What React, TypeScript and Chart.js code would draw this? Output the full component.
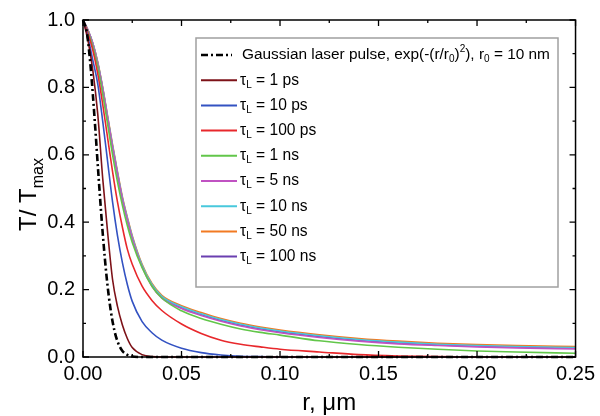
import React, { useEffect, useRef } from "react";
import { Chart, registerables } from "chart.js";

Chart.register(...registerables);

const FONT = "'Liberation Sans', Arial, Helvetica, sans-serif";

// radial coordinate, micrometres
const rGrid = [0, 0.0025, 0.005, 0.0075, 0.01, 0.0125, 0.015, 0.0175, 0.02, 0.0225, 0.025, 0.03, 0.035, 0.04, 0.05, 0.06, 0.07, 0.08, 0.09, 0.1, 0.12, 0.14, 0.16, 0.18, 0.2, 0.22, 0.25];

// Gaussian laser pulse
const gaussR = [0, 0.002, 0.004, 0.006, 0.008, 0.01, 0.012, 0.014, 0.016, 0.018, 0.02, 0.022, 0.024, 0.03, 0.25];
const gaussT = [1, 0.961, 0.852, 0.698, 0.527, 0.368, 0.237, 0.141, 0.077, 0.039, 0.018, 0.008, 0.003, 0, 0];

const tau1ps = [1, 0.94, 0.85, 0.72, 0.53, 0.37, 0.23, 0.15, 0.095, 0.055, 0.028, 0.007, 0.001, 0, 0, 0, 0, 0, 0, 0, 0, 0, 0, 0, 0, 0, 0];
const tau10ps = [1, 0.95, 0.88, 0.81, 0.70, 0.58, 0.46, 0.36, 0.28, 0.215, 0.165, 0.105, 0.072, 0.05, 0.026, 0.013, 0.006, 0.002, 0.001, 0, 0, 0, 0, 0, 0, 0, 0];
const tau100ps = [1, 0.96, 0.91, 0.84, 0.75, 0.65, 0.55, 0.46, 0.385, 0.32, 0.275, 0.21, 0.168, 0.138, 0.098, 0.07, 0.05, 0.038, 0.03, 0.023, 0.015, 0.007, 0.003, 0.001, 0, 0, 0];
const tau1ns = [1, 0.965, 0.92, 0.86, 0.78, 0.69, 0.60, 0.52, 0.45, 0.39, 0.34, 0.265, 0.21, 0.175, 0.137, 0.114, 0.097, 0.083, 0.073, 0.065, 0.048, 0.037, 0.029, 0.023, 0.018, 0.015, 0.011];
const tau5ns = [1, 0.97, 0.928, 0.87, 0.795, 0.708, 0.622, 0.542, 0.467, 0.407, 0.352, 0.267, 0.21, 0.175, 0.144, 0.123, 0.106, 0.092, 0.081, 0.072, 0.058, 0.047, 0.039, 0.034, 0.03, 0.027, 0.024];
const tau10ns = [1, 0.97, 0.93, 0.873, 0.798, 0.712, 0.627, 0.547, 0.472, 0.412, 0.357, 0.272, 0.215, 0.18, 0.149, 0.128, 0.111, 0.097, 0.086, 0.077, 0.063, 0.052, 0.044, 0.038, 0.034, 0.031, 0.028];
const tau50ns = [1, 0.97, 0.93, 0.875, 0.80, 0.715, 0.63, 0.55, 0.475, 0.415, 0.36, 0.275, 0.218, 0.183, 0.152, 0.132, 0.114, 0.1, 0.089, 0.08, 0.066, 0.055, 0.047, 0.041, 0.037, 0.034, 0.031];
const tau100ns = [1, 0.97, 0.93, 0.872, 0.797, 0.71, 0.625, 0.545, 0.47, 0.41, 0.355, 0.27, 0.213, 0.178, 0.147, 0.126, 0.109, 0.095, 0.084, 0.075, 0.061, 0.05, 0.042, 0.036, 0.032, 0.029, 0.026];

const tauLabels = ["1 ps", "10 ps", "100 ps", "1 ns", "5 ns", "10 ns", "50 ns", "100 ns"];
const tauSeries = [tau1ps, tau10ps, tau100ps, tau1ns, tau5ns, tau10ns, tau50ns, tau100ns];
const tauColors = ["#7d1218", "#3352c2", "#e8282c", "#62c64a", "#c052c2", "#48c8dc", "#f27a22", "#6a3fb0"];

const xTickStep = 0.05;
const yTickStep = 0.2;

type Seg = { t: string; k?: "sub" | "sup" };

function drawRich(ctx: CanvasRenderingContext2D, x: number, y: number, segs: Seg[], size: number) {
  let cx = x;
  for (const s of segs) {
    const fs = s.k ? Math.round(size * 0.66) : size;
    const dy = s.k === "sub" ? size * 0.3 : s.k === "sup" ? -size * 0.38 : 0;
    ctx.font = `${fs}px ${FONT}`;
    ctx.fillText(s.t, cx, y + dy);
    cx += ctx.measureText(s.t).width;
  }
  return cx;
}

const decorPlugin = {
  id: "decor",
  afterDatasetsDraw(chart: any) {
    const ctx: CanvasRenderingContext2D = chart.ctx;
    const ca = chart.chartArea;
    const xs = chart.scales.x;
    const ys = chart.scales.y;
    ctx.save();
    // frame
    ctx.strokeStyle = "#000";
    ctx.lineWidth = 1.5;
    ctx.setLineDash([]);
    ctx.strokeRect(ca.left, ca.top, ca.right - ca.left, ca.bottom - ca.top);
    // ticks
    ctx.lineWidth = 1.3;
    ctx.beginPath();
    for (let i = 0; i <= 10; i++) {
      const v = i * xTickStep / 2;
      const px = xs.getPixelForValue(v);
      const len = i % 2 === 0 ? 6 : 3;
      ctx.moveTo(px, ca.bottom); ctx.lineTo(px, ca.bottom - len);
      ctx.moveTo(px, ca.top); ctx.lineTo(px, ca.top + len);
    }
    for (let i = 0; i <= 10; i++) {
      const v = i * yTickStep / 2;
      const py = ys.getPixelForValue(v);
      const len = i % 2 === 0 ? 6 : 3;
      ctx.moveTo(ca.left, py); ctx.lineTo(ca.left + len, py);
      ctx.moveTo(ca.right, py); ctx.lineTo(ca.right - len, py);
    }
    ctx.stroke();

    // legend
    const lx = ca.left + 113;
    const ly = ca.top + 18;
    const lw = 362;
    const lh = 249;
    ctx.fillStyle = "#fff";
    ctx.fillRect(lx, ly, lw, lh);
    ctx.strokeStyle = "#a0a0a0";
    ctx.lineWidth = 1.5;
    ctx.strokeRect(lx, ly, lw, lh);
    ctx.fillStyle = "#000";
    ctx.textBaseline = "middle";
    ctx.textAlign = "left";
    const rowH = 25.2;
    const y0 = ly + 17;
    // gaussian row
    ctx.strokeStyle = "#000";
    ctx.lineWidth = 2.5;
    ctx.setLineDash([7, 3, 2, 3]);
    ctx.beginPath();
    ctx.moveTo(lx + 5, y0); ctx.lineTo(lx + 36, y0);
    ctx.stroke();
    ctx.setLineDash([]);
    drawRich(ctx, lx + 46, y0, [
      { t: "Gaussian laser pulse, exp(-(r/r" }, { t: "0", k: "sub" }, { t: ")" }, { t: "2", k: "sup" },
      { t: "), r" }, { t: "0", k: "sub" }, { t: " = 10 nm" },
    ], 15.4);
    tauLabels.forEach((lab, i) => {
      const y = y0 + (i + 1) * rowH;
      ctx.strokeStyle = tauColors[i];
      ctx.lineWidth = 2;
      ctx.beginPath();
      ctx.moveTo(lx + 5, y); ctx.lineTo(lx + 41, y);
      ctx.stroke();
      drawRich(ctx, lx + 44, y, [{ t: "\u03c4" }, { t: "L", k: "sub" }, { t: " = " + lab }], 15.6);
    });

    // axis titles
    ctx.fillStyle = "#000";
    ctx.textBaseline = "alphabetic";
    ctx.font = `24px ${FONT}`;
    const xt = "r, \u03bcm";
    const xtw = ctx.measureText(xt).width;
    ctx.fillText(xt, (ca.left + ca.right) / 2 - xtw / 2, 410);

    ctx.save();
    ctx.translate(36, (ca.top + ca.bottom) / 2 + 6);
    ctx.rotate(-Math.PI / 2);
    ctx.font = `24px ${FONT}`;
    const w1 = ctx.measureText("T/ T").width;
    ctx.font = `16px ${FONT}`;
    const w2 = ctx.measureText("max").width;
    drawRich(ctx, -(w1 + w2) / 2, 0, [{ t: "T/ T" }, { t: "max", k: "sub" }], 24);
    ctx.restore();
    ctx.restore();
  },
};

export default function App() {
  const ref = useRef<HTMLCanvasElement | null>(null);
  useEffect(() => {
    if (!ref.current) return;
    const lineDs = (vals: number[], color: string) => ({
      data: rGrid.map((r, i) => ({ x: r, y: vals[i] })),
      borderColor: color,
      borderWidth: 1.6,
      pointRadius: 0,
      cubicInterpolationMode: "monotone" as const,
      clip: 3,
    });
    const datasets: any[] = [
      {
        data: gaussR.map((r, i) => ({ x: r, y: gaussT[i] })),
        borderColor: "#000",
        borderWidth: 2.6,
        borderDash: [7, 3, 2, 3],
        pointRadius: 0,
        cubicInterpolationMode: "monotone",
        clip: 3,
      },
      ...tauSeries.map((s, i) => lineDs(s, tauColors[i])),
    ];
    const chart = new Chart(ref.current, {
      type: "line",
      data: { datasets },
      options: {
        animation: false,
        responsive: false,
        layout: { padding: { left: 0, right: 22, top: 19, bottom: 0 } },
        plugins: { legend: { display: false }, tooltip: { enabled: false } },
        scales: {
          x: {
            type: "linear",
            min: 0,
            max: 0.25,
            grid: { display: false, drawTicks: false },
            border: { display: false },
            afterFit: (s: any) => { s.height = 59; },
            ticks: {
              stepSize: xTickStep,
              padding: 5,
              color: "#000",
              font: { family: FONT, size: 20 },
              callback: (v: any) => Number(v).toFixed(2),
              maxRotation: 0,
            },
          },
          y: {
            type: "linear",
            min: 0,
            max: 1,
            grid: { display: false, drawTicks: false },
            border: { display: false },
            afterFit: (s: any) => { s.width = 83; },
            ticks: {
              stepSize: yTickStep,
              padding: 8,
              color: "#000",
              font: { family: FONT, size: 20 },
              callback: (v: any) => Number(v).toFixed(1),
            },
          },
        },
      },
      plugins: [decorPlugin],
    });
    return () => chart.destroy();
  }, []);
  return (
    <div style={{ position: "fixed", left: 0, top: 0, width: 600, height: 416, background: "#fff" }}>
      <canvas ref={ref} width={600} height={416} style={{ display: "block" }} />
    </div>
  );
}
